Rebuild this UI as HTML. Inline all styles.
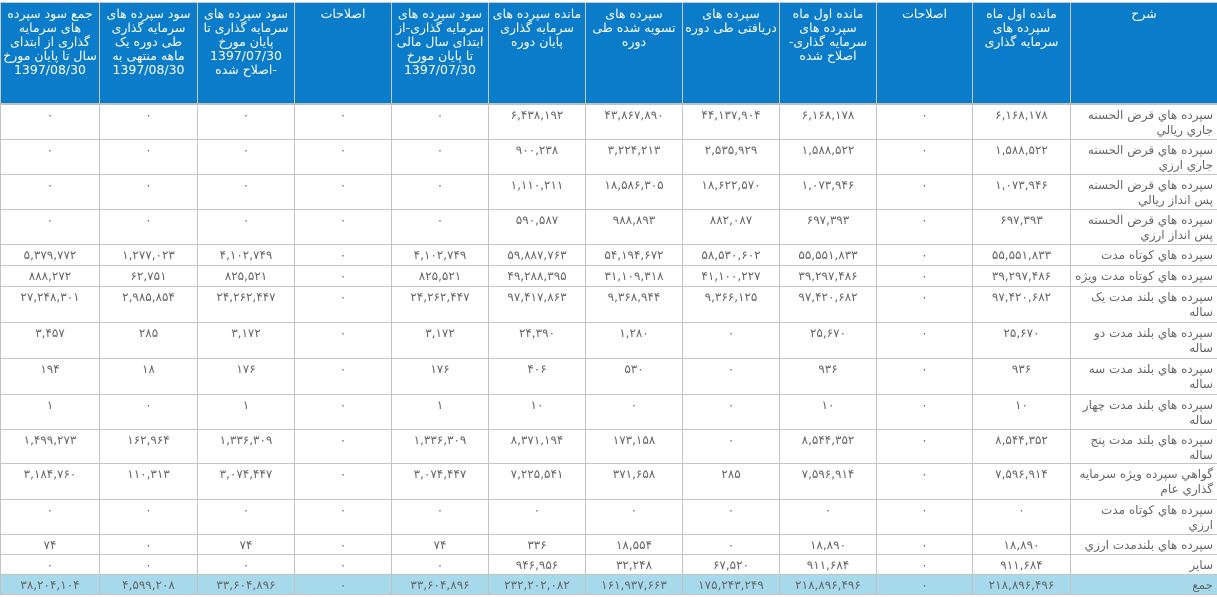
<!DOCTYPE html>
<html><head><meta charset="utf-8">
<style>
body{margin:0;background:#fff;width:1217px;height:597px;overflow:hidden}
table{position:absolute;left:0;top:2px;border-collapse:collapse;table-layout:fixed;width:1217px;direction:rtl;font-family:"DejaVu Sans",sans-serif;font-size:12px;color:#666}
td,th{border:1px solid #c4c4c4;padding:0 2px;vertical-align:top;text-align:center;overflow:hidden;white-space:nowrap}
th{background:#0a7cc9;color:#fff;font-weight:normal;font-size:12.5px;line-height:14px;padding-top:4px;border-color:#c8c8c8;border-bottom:2px solid #c0c0c0}
td{line-height:15px;padding-top:3px}
td.d{text-align:right;padding-right:4px;font-size:12px}
tr.t td{background:#a6d9ec}
</style></head><body>
<table>
<colgroup><col style="width:147px"><col style="width:98px"><col style="width:96px"><col style="width:97px"><col style="width:97px"><col style="width:97px"><col style="width:97px"><col style="width:97px"><col style="width:97px"><col style="width:97px"><col style="width:98px"><col style="width:99px"></colgroup>
<tr style="height:101px"><th>شرح</th><th>مانده اول ماه<br>سپرده های<br>سرمایه گذاری</th><th>اصلاحات</th><th>مانده اول ماه<br>سپرده های<br>سرمایه گذاری-<br>اصلاح شده</th><th>سپرده های<br>دریافتی طی دوره</th><th>سپرده های<br>تسویه شده طی<br>دوره</th><th>مانده سپرده های<br>سرمایه گذاری<br>پایان دوره</th><th>سود سپرده های<br>سرمایه گذاری-از<br>ابتدای سال مالی<br>تا پایان مورخ<br>1397/07/30</th><th>اصلاحات</th><th>سود سپرده های<br>سرمایه گذاری تا<br>پایان مورخ<br>1397/07/30<br>-اصلاح شده</th><th>سود سپرده های<br>سرمایه گذاری<br>طی دوره یک<br>ماهه منتهی به<br>1397/08/30</th><th>جمع سود سپرده<br>های سرمایه<br>گذاری از ابتدای<br>سال تا پایان مورخ<br>1397/08/30</th></tr>
<tr style="height:36px"><td class="d">سپرده هاي قرض الحسنه<br>جاري ريالي</td><td>۶,۱۶۸,۱۷۸</td><td>۰</td><td>۶,۱۶۸,۱۷۸</td><td>۴۴,۱۳۷,۹۰۴</td><td>۴۳,۸۶۷,۸۹۰</td><td>۶,۴۳۸,۱۹۲</td><td>۰</td><td>۰</td><td>۰</td><td>۰</td><td>۰</td></tr>
<tr style="height:35px"><td class="d">سپرده هاي قرض الحسنه<br>جاري ارزي</td><td>۱,۵۸۸,۵۲۲</td><td>۰</td><td>۱,۵۸۸,۵۲۲</td><td>۲,۵۳۵,۹۲۹</td><td>۳,۲۲۴,۲۱۳</td><td>۹۰۰,۲۳۸</td><td>۰</td><td>۰</td><td>۰</td><td>۰</td><td>۰</td></tr>
<tr style="height:35px"><td class="d">سپرده هاي قرض الحسنه<br>پس انداز ريالي</td><td>۱,۰۷۳,۹۴۶</td><td>۰</td><td>۱,۰۷۳,۹۴۶</td><td>۱۸,۶۲۲,۵۷۰</td><td>۱۸,۵۸۶,۳۰۵</td><td>۱,۱۱۰,۲۱۱</td><td>۰</td><td>۰</td><td>۰</td><td>۰</td><td>۰</td></tr>
<tr style="height:35px"><td class="d">سپرده هاي قرض الحسنه<br>پس انداز ارزي</td><td>۶۹۷,۳۹۳</td><td>۰</td><td>۶۹۷,۳۹۳</td><td>۸۸۲,۰۸۷</td><td>۹۸۸,۸۹۳</td><td>۵۹۰,۵۸۷</td><td>۰</td><td>۰</td><td>۰</td><td>۰</td><td>۰</td></tr>
<tr style="height:21px"><td class="d">سپرده هاي كوتاه مدت</td><td>۵۵,۵۵۱,۸۳۳</td><td>۰</td><td>۵۵,۵۵۱,۸۳۳</td><td>۵۸,۵۳۰,۶۰۲</td><td>۵۴,۱۹۴,۶۷۲</td><td>۵۹,۸۸۷,۷۶۳</td><td>۴,۱۰۲,۷۴۹</td><td>۰</td><td>۴,۱۰۲,۷۴۹</td><td>۱,۲۷۷,۰۲۳</td><td>۵,۳۷۹,۷۷۲</td></tr>
<tr style="height:21px"><td class="d">سپرده هاي كوتاه مدت ويژه</td><td>۳۹,۲۹۷,۴۸۶</td><td>۰</td><td>۳۹,۲۹۷,۴۸۶</td><td>۴۱,۱۰۰,۲۲۷</td><td>۳۱,۱۰۹,۳۱۸</td><td>۴۹,۲۸۸,۳۹۵</td><td>۸۲۵,۵۲۱</td><td>۰</td><td>۸۲۵,۵۲۱</td><td>۶۲,۷۵۱</td><td>۸۸۸,۲۷۲</td></tr>
<tr style="height:36px"><td class="d">سپرده هاي بلند مدت يک<br>ساله</td><td>۹۷,۴۲۰,۶۸۲</td><td>۰</td><td>۹۷,۴۲۰,۶۸۲</td><td>۹,۳۶۶,۱۲۵</td><td>۹,۳۶۸,۹۴۴</td><td>۹۷,۴۱۷,۸۶۳</td><td>۲۴,۲۶۲,۴۴۷</td><td>۰</td><td>۲۴,۲۶۲,۴۴۷</td><td>۲,۹۸۵,۸۵۴</td><td>۲۷,۲۴۸,۳۰۱</td></tr>
<tr style="height:36px"><td class="d">سپرده هاي بلند مدت دو<br>ساله</td><td>۲۵,۶۷۰</td><td>۰</td><td>۲۵,۶۷۰</td><td>۰</td><td>۱,۲۸۰</td><td>۲۴,۳۹۰</td><td>۳,۱۷۲</td><td>۰</td><td>۳,۱۷۲</td><td>۲۸۵</td><td>۳,۴۵۷</td></tr>
<tr style="height:36px"><td class="d">سپرده هاي بلند مدت سه<br>ساله</td><td>۹۳۶</td><td>۰</td><td>۹۳۶</td><td>۰</td><td>۵۳۰</td><td>۴۰۶</td><td>۱۷۶</td><td>۰</td><td>۱۷۶</td><td>۱۸</td><td>۱۹۴</td></tr>
<tr style="height:35px"><td class="d">سپرده هاي بلند مدت چهار<br>ساله</td><td>۱۰</td><td>۰</td><td>۱۰</td><td>۰</td><td>۰</td><td>۱۰</td><td>۱</td><td>۰</td><td>۱</td><td>۰</td><td>۱</td></tr>
<tr style="height:33px"><td class="d">سپرده هاي بلند مدت پنج<br>ساله</td><td>۸,۵۴۴,۳۵۲</td><td>۰</td><td>۸,۵۴۴,۳۵۲</td><td>۰</td><td>۱۷۳,۱۵۸</td><td>۸,۳۷۱,۱۹۴</td><td>۱,۳۳۶,۳۰۹</td><td>۰</td><td>۱,۳۳۶,۳۰۹</td><td>۱۶۲,۹۶۴</td><td>۱,۴۹۹,۲۷۳</td></tr>
<tr style="height:36px"><td class="d">گواهي سپرده ويژه سرمايه<br>گذاري عام</td><td>۷,۵۹۶,۹۱۴</td><td>۰</td><td>۷,۵۹۶,۹۱۴</td><td>۲۸۵</td><td>۳۷۱,۶۵۸</td><td>۷,۲۲۵,۵۴۱</td><td>۳,۰۷۴,۴۴۷</td><td>۰</td><td>۳,۰۷۴,۴۴۷</td><td>۱۱۰,۳۱۳</td><td>۳,۱۸۴,۷۶۰</td></tr>
<tr style="height:35px"><td class="d">سپرده هاي كوتاه مدت<br>ارزي</td><td>۰</td><td>۰</td><td>۰</td><td>۰</td><td>۰</td><td>۰</td><td>۰</td><td>۰</td><td>۰</td><td>۰</td><td>۰</td></tr>
<tr style="height:20px"><td class="d">سپرده هاي بلندمدت ارزي</td><td>۱۸,۸۹۰</td><td>۰</td><td>۱۸,۸۹۰</td><td>۰</td><td>۱۸,۵۵۴</td><td>۳۳۶</td><td>۷۴</td><td>۰</td><td>۷۴</td><td>۰</td><td>۷۴</td></tr>
<tr style="height:20px"><td class="d">ساير</td><td>۹۱۱,۶۸۴</td><td>۰</td><td>۹۱۱,۶۸۴</td><td>۶۷,۵۲۰</td><td>۳۲,۲۴۸</td><td>۹۴۶,۹۵۶</td><td>۰</td><td>۰</td><td>۰</td><td>۰</td><td>۰</td></tr>
<tr class="t" style="height:20px"><td class="d">جمع</td><td>۲۱۸,۸۹۶,۴۹۶</td><td>۰</td><td>۲۱۸,۸۹۶,۴۹۶</td><td>۱۷۵,۲۴۳,۲۴۹</td><td>۱۶۱,۹۳۷,۶۶۳</td><td>۲۳۲,۲۰۲,۰۸۲</td><td>۳۳,۶۰۴,۸۹۶</td><td>۰</td><td>۳۳,۶۰۴,۸۹۶</td><td>۴,۵۹۹,۲۰۸</td><td>۳۸,۲۰۴,۱۰۴</td></tr>
</table>
</body></html>
